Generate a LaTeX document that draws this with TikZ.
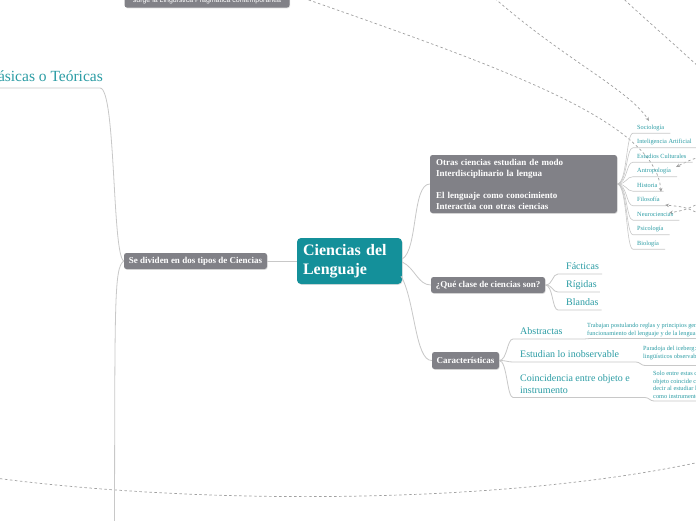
\documentclass[tikz,border=0pt]{standalone}
\usepackage{fontspec}
\setmainfont{Liberation Serif}
\newfontfamily\topsans{Liberation Sans}
\usetikzlibrary{arrows.meta,shadows}
\definecolor{tealtxt}{HTML}{2A9CA4}
\definecolor{tealbox}{HTML}{14909A}
\definecolor{boxgray}{HTML}{818187}
\definecolor{linegray}{HTML}{C8C8C8}
\definecolor{dashgray}{HTML}{A0A0A0}
\tikzset{
  conn/.style={draw=linegray, line width=0.8pt},
  dashconn/.style={draw=dashgray, line width=0.7pt, dash pattern=on 2.5pt off 2.5pt},
  arrowed/.style={-{Stealth[length=4pt,width=3.5pt]}},
  graybox/.style={fill=boxgray, rounded corners=2.5pt, text=white,
    font=\bfseries\fontsize{9}{11}\selectfont, inner sep=0pt,
    drop shadow={opacity=0.25,shadow xshift=0.6pt,shadow yshift=-0.8pt}},
  central/.style={fill=tealbox, rounded corners=4pt, text=white,
    font=\bfseries\fontsize{16}{19}\selectfont, align=left, text width=93pt,
    inner xsep=6pt, inner ysep=0pt, minimum height=46pt,
    drop shadow={opacity=0.25,shadow xshift=0.6pt,shadow yshift=-0.8pt}},
  tealbig/.style={text=tealtxt, font=\fontsize{10}{12}\selectfont, inner sep=0pt, anchor=base west},
  tealsmall/.style={text=tealtxt, font=\fontsize{6.3}{7.8}\selectfont, inner sep=0pt, anchor=base west},
  tealdetail/.style={text=tealtxt, font=\fontsize{6.3}{7.8}\selectfont, inner sep=0pt, anchor=north west, align=left},
}
\begin{document}
\begin{tikzpicture}[x=1pt,y=-1pt]
\useasboundingbox (0,0) rectangle (696,520);
\fill[white] (0,0) rectangle (696,520);

% ---------- dashed relations (behind) ----------
\node[graybox, font=\topsans\fontsize{7}{8}\selectfont, minimum width=165pt, minimum height=14pt] (top) at (207,0.5) {surge la Lingüística Pragmática contemporánea};

\coordinate (d1end) at (661,192);
\draw[dashconn,arrowed] (top.north east) .. controls (500,67) and (655,120) .. (d1end);
\coordinate (d2start) at (480,-15);
\coordinate (d2end) at (649,121);
\draw[dashconn,arrowed] (d2start) .. controls (555,55) and (628,88) .. (d2end);
\coordinate (d3start) at (610,-14);
\coordinate (d3end) at (702,70);
\draw[dashconn] (d3start) .. controls (640,15) and (670,40) .. (d3end);
\coordinate (d4start) at (700,157);
\coordinate (d4end) at (676,167);
\draw[dashconn,arrowed] (d4start) .. controls (690,160) .. (d4end);
\coordinate (d5start) at (700,214);
\coordinate (d5end) at (665,205);
\draw[dashconn,arrowed] (d5start) .. controls (685,207) .. (d5end);
\coordinate (d6start) at (700,203);
\coordinate (d6end) at (669,213);
\draw[dashconn,arrowed] (d6start) .. controls (685,210) .. (d6end);
\coordinate (b1) at (-5,478);
\coordinate (b2) at (700,462);
\draw[dashconn] (b1) .. controls (200,505) and (500,505) .. (b2);

% ---------- main nodes ----------
\node[central] (c) at (349.5,261) {Ciencias del\\Lenguaje};
\node[graybox, minimum width=143pt, minimum height=16pt] (sd) at (195.5,261) {Se dividen en dos tipos de Ciencias};
\node[graybox, align=left, text width=175pt, inner xsep=6pt, minimum height=58pt] (ot) at (523.5,184)
  {Otras ciencias estudian de modo\\Interdisciplinario la lengua\\[11pt]El lenguaje como conocimiento\\Interactúa con otras ciencias};
\node[graybox, minimum width=114pt, minimum height=16pt] (qc) at (488,285) {¿Qué clase de ciencias son?};
\node[graybox, minimum width=67pt, minimum height=17pt] (ca) at (465.5,360.5) {Características};

\node[tealbig, font=\fontsize{15.5}{18}\selectfont, anchor=base east] (ba) at (103,81.5) {Básicas o Teóricas};

% left side
\draw[conn] (c.west) -- (sd.east);
\coordinate (baL) at (-8,88);
\draw[conn] (sd.west) .. controls (112,255) and (116,88) .. (100,88) -- (baL);
\coordinate (botend) at (114.5,525);
\draw[conn] (sd.west) .. controls (114,268) and (115,300) .. (botend);

% central to right branches
\draw[conn] ([yshift=2pt]c.east) .. controls (418,250) and (412,184) .. (ot.west);
\draw[conn] ([yshift=-1pt]c.east) .. controls (415,268) and (418,285) .. (qc.west);
\coordinate (cEb) at (401,276);
\draw[conn] (cEb) .. controls (415,300) and (415,361) .. (ca.west);

% ---------- science list ----------
\node[tealsmall] (s1) at (637,129.2) {Sociología};
\node[tealsmall] (s2) at (637,143.7) {Inteligencia Artificial};
\node[tealsmall] (s3) at (637,158.2) {Estudios Culturales};
\node[tealsmall] (s4) at (637,172.7) {Antropología};
\node[tealsmall] (s5) at (637,187.2) {Historia};
\node[tealsmall] (s6) at (637,201.7) {Filosofía};
\node[tealsmall] (s7) at (637,216.2) {Neurociencias};
\node[tealsmall] (s8) at (637,230.7) {Psicología};
\node[tealsmall] (s9) at (637,245.2) {Biología};
\foreach \s in {s1,s2,s3,s4,s5,s6,s7,s8,s9}{
  \draw[conn, line width=0.6pt] (ot.east) .. controls +(10,0) and +(-7,0) .. ([xshift=-4pt,yshift=-4pt]\s.base west) -- ([xshift=6pt,yshift=-4pt]\s.base east);
}

% ---------- clase de ciencias ----------
\node[tealbig] (fa) at (566,269.5) {Fácticas};
\node[tealbig] (ri) at (566,287.5) {Rígidas};
\node[tealbig] (bl) at (566,305.5) {Blandas};
\foreach \s in {fa,ri,bl}{
  \draw[conn] (qc.east) .. controls +(8,0) and +(-6,0) .. ([xshift=-8pt,yshift=-4.5pt]\s.base west) -- ([xshift=3pt,yshift=-4.5pt]\s.base east);
}

% ---------- características ----------
\node[tealbig] (ab) at (520,334.5) {Abstractas};
\node[tealbig] (eo) at (520,357.5) {Estudian lo inobservable};
\node[tealbig, anchor=north west, align=left] (co) at (520,374.6) {Coincidencia entre objeto e\\instrumento};

\node[tealdetail] (abd) at (587,322.7) {Trabajan postulando reglas y principios generales del\\funcionamiento del lenguaje y de la lengua};
\node[tealdetail] (eod) at (643,345.7) {Paradoja del iceberg: datos\\lingüísticos observables};
\node[tealdetail] (cod) at (653,370.7) {Solo entre estas ciencias el\\objeto coincide con el medio, es\\decir al estudiar la lengua se usa\\como instrumento la propia lengua};

\coordinate (ab1) at (513,339);
\coordinate (ab2) at (584,339);
\coordinate (ab3) at (590,338.5);
\coordinate (ab4) at (702,338.5);
\draw[conn] (ca.east) .. controls +(8,0) and +(-6,0) .. (ab1) -- (ab2) .. controls +(3,0) and +(-3,0) .. (ab3) -- (ab4);
\coordinate (eo1) at (513,362);
\coordinate (eo2) at (636,362);
\coordinate (eo3) at (645,365.5);
\coordinate (eo4) at (702,365.5);
\draw[conn] (ca.east) .. controls +(8,0) and +(-6,0) .. (eo1) -- (eo2) .. controls +(4,0) and +(-4,0) .. (eo3) -- (eo4);
\coordinate (co1) at (513,397.5);
\coordinate (co2) at (645,397.5);
\coordinate (co3) at (654,401);
\coordinate (co4) at (702,401);
\draw[conn] (ca.east) .. controls +(8,0) and +(-6,0) .. (co1) -- (co2) .. controls +(4,0) and +(-4,0) .. (co3) -- (co4);
\end{tikzpicture}
\end{document}
